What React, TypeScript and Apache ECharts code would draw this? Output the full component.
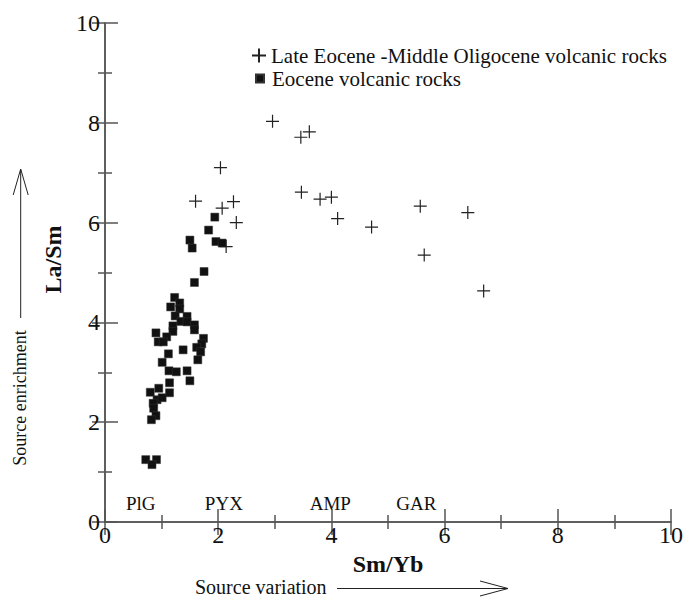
import React, { useEffect, useRef } from "react";
import * as echarts from "echarts";

const plusX = [2.96, 3.46, 3.61, 2.04, 1.6, 2.27, 2.07, 2.32, 2.14, 3.47, 3.8, 4.0, 4.11, 4.71, 5.57, 6.41, 5.64, 6.69];
const plusY = [8.03, 7.71, 7.82, 7.1, 6.43, 6.42, 6.29, 6.0, 5.52, 6.61, 6.47, 6.51, 6.08, 5.91, 6.33, 6.2, 5.35, 4.63];

const squareX = [1.94, 1.83, 1.5, 1.54, 1.96, 2.07, 1.75, 1.58, 1.23, 1.32, 1.16, 1.32, 1.24, 1.45, 1.34, 1.45, 1.2, 1.58, 1.2, 1.58, 0.9, 1.09, 0.94, 1.03, 1.74, 1.71, 1.38, 1.62, 1.69, 1.12, 1.64, 1.01, 1.13, 1.26, 1.45, 1.14, 1.5, 0.8, 0.95, 1.14, 0.92, 1.01, 0.85, 0.86, 0.9, 0.82, 0.72, 0.91, 0.83];
const squareY = [6.11, 5.85, 5.65, 5.49, 5.62, 5.59, 5.02, 4.8, 4.5, 4.39, 4.31, 4.27, 4.13, 4.12, 4.02, 4.01, 3.93, 3.95, 3.82, 3.85, 3.79, 3.71, 3.61, 3.61, 3.68, 3.57, 3.45, 3.5, 3.41, 3.37, 3.25, 3.2, 3.03, 3.01, 3.03, 2.79, 2.83, 2.6, 2.68, 2.59, 2.45, 2.49, 2.38, 2.28, 2.13, 2.05, 1.25, 1.25, 1.15];

const mineralNames = ["PlG", "PYX", "AMP", "GAR"];
const mineralX = [0.63, 2.1, 3.98, 5.5];
const mineralY = [0.38, 0.38, 0.38, 0.38];

const seriesNames = ["Late Eocene -Middle Oligocene volcanic rocks", "Eocene volcanic rocks"];
const xTicks = { min: 0, max: 10, interval: 2 };
const yTicks = { min: 0, max: 10, interval: 2 };

const FONT = '"Liberation Serif", "Times New Roman", serif';
const AX = "#555";

export default function App() {
  const ref = useRef<HTMLDivElement>(null);
  useEffect(() => {
    if (!ref.current) return;
    const chart = echarts.init(ref.current, undefined, { renderer: "svg" });
    const axisCommon = (show: boolean) => ({
      type: "value" as const,
      min: 0,
      max: 10,
      interval: 2,
      axisLine: { show: true, lineStyle: { color: AX, width: 1.5 } },
      axisTick: { show: true, inside: true, length: 13, lineStyle: { color: AX, width: 1.5 } },
      minorTick: { show: true, splitNumber: 2, length: 7, lineStyle: { color: AX, width: 1.5 } },
      splitLine: { show: false },
      minorSplitLine: { show: false },
      axisLabel: { show, fontSize: 24, fontFamily: FONT, color: "#111" },
    });
    const plusData = plusX.map((x, i) => [x, plusY[i]]);
    const squareData = squareX.map((x, i) => [x, squareY[i]]);
    const mineralData = mineralNames.map((n, i) => ({ name: n, value: [mineralX[i], mineralY[i]] }));
    chart.setOption({
      animation: false,
      backgroundColor: "#fff",
      grid: { left: 105, top: 23, right: 13, bottom: 77 },
      xAxis: [
        {
          ...axisCommon(true),
          min: xTicks.min,
          max: xTicks.max,
          interval: xTicks.interval,
          position: "bottom",
          axisLabel: { show: true, fontSize: 24, fontFamily: FONT, color: "#111", margin: 1 },
          name: "Sm/Yb",
          nameLocation: "middle",
          nameGap: 26,
          nameTextStyle: { fontSize: 24, fontWeight: "bold", fontFamily: FONT, color: "#111" },
        },
        { ...axisCommon(false), position: "top" },
      ],
      yAxis: [
        {
          ...axisCommon(true),
          min: yTicks.min,
          max: yTicks.max,
          interval: yTicks.interval,
          position: "left",
          axisLabel: { show: true, fontSize: 24, fontFamily: FONT, color: "#111", margin: 5 },
          name: "La/Sm",
          nameLocation: "middle",
          nameGap: 26,
          nameTextStyle: {
            fontSize: 24,
            fontWeight: "bold",
            fontFamily: FONT,
            color: "#111",
            padding: [0, 0, 0, 26],
          },
        },
        { ...axisCommon(false), position: "right" },
      ],
      legend: [
        {
          data: [seriesNames[0]],
          orient: "vertical",
          left: 246,
          top: 40,
          itemWidth: 14,
          itemHeight: 14,
          textStyle: { fontSize: 21, fontFamily: FONT, color: "#111" },
        },
        {
          data: [seriesNames[1]],
          orient: "vertical",
          left: 250,
          top: 63,
          itemWidth: 8,
          itemHeight: 8,
          textStyle: { fontSize: 21, fontFamily: FONT, color: "#111", padding: [0, 0, 0, 3] },
        },
      ],
      series: [
        {
          name: seriesNames[0],
          type: "scatter",
          xAxisIndex: 0,
          yAxisIndex: 0,
          symbol: "path://M0,6L12,6M6,0L6,12",
          symbolSize: 13,
          itemStyle: { color: "rgba(0,0,0,0)", borderColor: "#222", borderWidth: 1.2, opacity: 1 },
          data: plusData,
        },
        {
          name: seriesNames[1],
          type: "scatter",
          xAxisIndex: 0,
          yAxisIndex: 0,
          symbol: "rect",
          symbolSize: 8,
          itemStyle: { color: "#111", borderColor: "#333", borderWidth: 0.5, opacity: 1 },
          data: squareData,
        },
        {
          name: "minerals",
          type: "scatter",
          xAxisIndex: 0,
          yAxisIndex: 0,
          symbolSize: 0,
          silent: true,
          itemStyle: { opacity: 1 },
          label: {
            show: true,
            position: "inside",
            formatter: "{b}",
            fontSize: 19,
            fontFamily: FONT,
            color: "#111",
          },
          data: mineralData,
        },
      ],
      graphic: [
        {
          type: "text",
          x: 195,
          y: 587,
          style: {
            text: "Source variation",
            fontSize: 20,
            fontFamily: FONT,
            fill: "#111",
            align: "left",
            textAlign: "left",
            verticalAlign: "middle",
            textVerticalAlign: "middle",
          },
        },
        { type: "line", shape: { x1: 337, y1: 588.5, x2: 508, y2: 588.5 }, style: { stroke: "#222", lineWidth: 1 } },
        { type: "polyline", shape: { points: [[480, 581], [508, 588.5], [480, 596]] }, style: { stroke: "#222", lineWidth: 1, fill: null } },
        { type: "line", shape: { x1: 20.7, y1: 170, x2: 20.7, y2: 318 }, style: { stroke: "#222", lineWidth: 1 } },
        { type: "polyline", shape: { points: [[13.2, 195], [20.7, 169], [28.2, 195]] }, style: { stroke: "#222", lineWidth: 1, fill: null } },
        {
          type: "text",
          x: 20,
          y: 398,
          rotation: Math.PI / 2,
          style: {
            text: "Source enrichment",
            fontSize: 18,
            fontFamily: FONT,
            fill: "#111",
            align: "center",
            textAlign: "center",
            verticalAlign: "middle",
            textVerticalAlign: "middle",
          },
        },
      ],
    });
    return () => chart.dispose();
  }, []);
  return <div ref={ref} style={{ position: "fixed", left: 0, top: 0, width: 686, height: 599 }} />;
}
